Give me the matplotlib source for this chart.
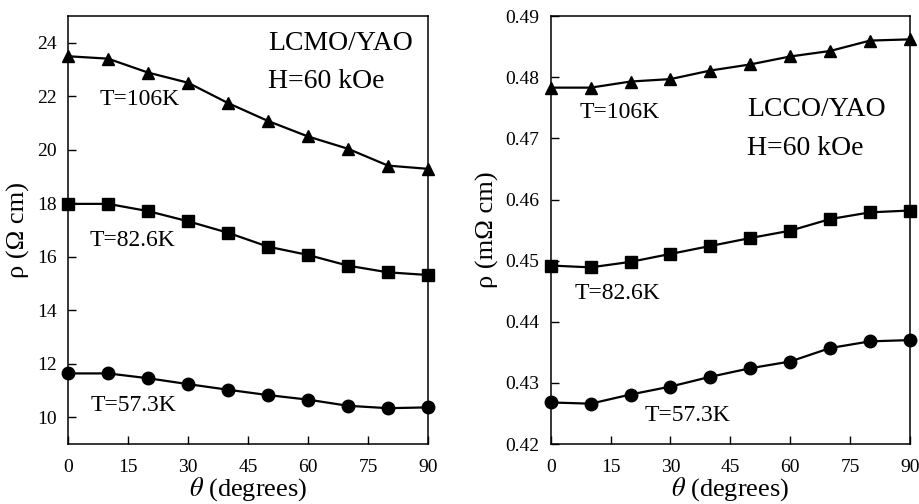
import matplotlib
matplotlib.use('Agg')
import matplotlib.pyplot as plt

# angle values (degrees)
theta = [0, 10, 20, 30, 40, 50, 60, 70, 80, 90]

# LCMO/YAO resistivity (Ohm cm)
lcmo_106 = [23.50, 23.41, 22.89, 22.51, 21.75, 21.08, 20.50, 20.04, 19.41, 19.29]
lcmo_826 = [17.98, 17.98, 17.71, 17.33, 16.90, 16.38, 16.07, 15.67, 15.42, 15.32]
lcmo_573 = [11.64, 11.64, 11.46, 11.24, 11.03, 10.83, 10.66, 10.43, 10.34, 10.37]

# LCCO/YAO resistivity (mOhm cm)
lcco_106 = [0.4783, 0.4783, 0.4793, 0.4797, 0.4811, 0.4821, 0.4834, 0.4843, 0.4860, 0.4862]
lcco_826 = [0.4492, 0.4489, 0.4498, 0.4511, 0.4524, 0.4537, 0.4549, 0.4568, 0.4579, 0.4582]
lcco_573 = [0.4268, 0.4266, 0.4281, 0.4294, 0.4310, 0.4324, 0.4335, 0.4357, 0.4368, 0.4370]

plt.rcParams['font.family'] = ['Liberation Serif', 'DejaVu Serif']
plt.rcParams['mathtext.fontset'] = 'stix'

fig = plt.figure(figsize=(9.2, 5.04), dpi=100)
ax1 = fig.add_axes([0.0739, 0.119, 0.3913, 0.849])
ax2 = fig.add_axes([0.5986, 0.119, 0.3905, 0.849])

def draw(ax, series):
    for ys, mk in series:
        ms = 9 if mk == 'o' else 8.5
        ax.plot(theta, ys, color='black', lw=1.6, marker=mk, ms=ms, clip_on=False, zorder=3)
    ax.set_xlim(0, 90)
    ax.set_xticks(range(0, 91, 15))
    ax.tick_params(direction='in', length=6, width=1, labelsize=14, pad=8)
    ax.tick_params(axis='x', pad=11)
    for s in ax.spines.values():
        s.set_linewidth(1.1)
    ax.set_xlabel(r'$\theta$ (degrees)', fontsize=19, labelpad=-1)

draw(ax1, [(lcmo_106, '^'), (lcmo_826, 's'), (lcmo_573, 'o')])
ax1.set_ylim(9, 25)
ax1.set_yticks(range(10, 25, 2))
ax1.set_ylabel('ρ (Ω cm)', fontsize=19, labelpad=5)
ax1.text(8, 21.9, 'T=106K', fontsize=17, va='center')
ax1.text(5.3, 16.6, 'T=82.6K', fontsize=17, va='center')
ax1.text(5.7, 10.45, 'T=57.3K', fontsize=17, va='center')
ax1.text(50, 23.97, 'LCMO/YAO', fontsize=20, va='center')
ax1.text(50, 22.54, 'H=60 kOe', fontsize=20, va='center')

draw(ax2, [(lcco_106, '^'), (lcco_826, 's'), (lcco_573, 'o')])
ax2.set_ylim(0.42, 0.49)
ax2.set_yticks([0.42, 0.43, 0.44, 0.45, 0.46, 0.47, 0.48, 0.49])
ax2.set_yticklabels(['0.42', '0.43', '0.44', '0.45', '0.46', '0.47', '0.48', '0.49'])
ax2.set_ylabel('ρ (mΩ cm)', fontsize=19, labelpad=5)
ax2.text(7.2, 0.4743, 'T=106K', fontsize=17, va='center')
ax2.text(6.1, 0.4446, 'T=82.6K', fontsize=17, va='center')
ax2.text(23.6, 0.4246, 'T=57.3K', fontsize=17, va='center')
ax2.text(49.2, 0.4747, 'LCCO/YAO', fontsize=20, va='center')
ax2.text(49.2, 0.4683, 'H=60 kOe', fontsize=20, va='center')

fig.savefig('out.png', dpi=100)
